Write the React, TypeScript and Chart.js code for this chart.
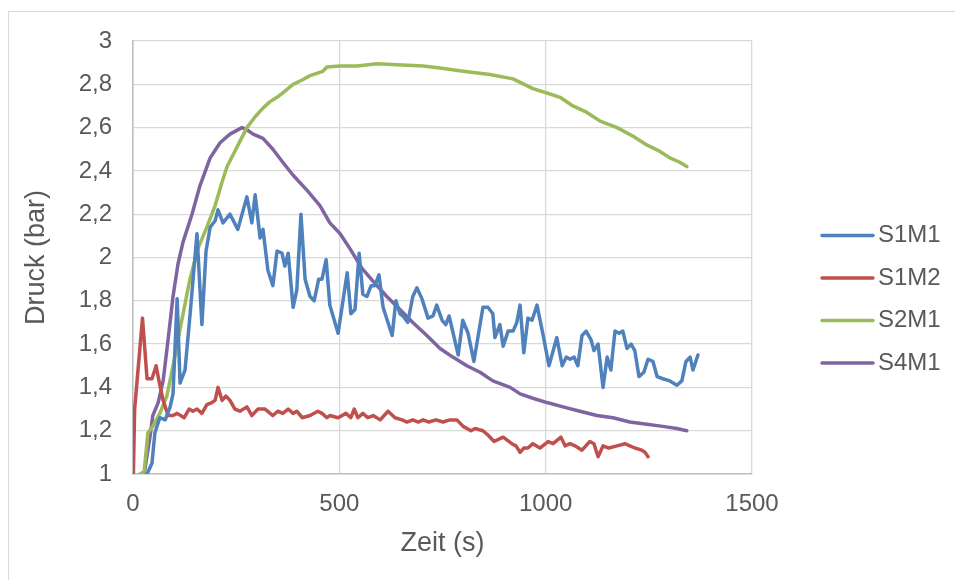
import React, { useEffect, useRef } from "react";
import { Chart, registerables } from "chart.js";

Chart.register(...registerables);

// ---- data ----
const seriesNames = ["S1M1", "S1M2", "S2M1", "S4M1"];
const seriesColors = ["#4F81BD", "#C0504D", "#9BBB59", "#8064A2"];

const xTickValues = [0, 500, 1000, 1500];
const yTickValues = [1, 1.2, 1.4, 1.6, 1.8, 2, 2.2, 2.4, 2.6, 2.8, 3];

const s1m1Zeit = [34, 46, 53, 65, 78, 90, 97, 107, 114, 126, 138, 155, 167, 177, 187, 199, 206, 218, 235, 254, 276, 288, 296, 308, 315, 327, 339, 349, 361, 368, 376, 388, 397, 407, 417, 429, 439, 450, 458, 468, 477, 497, 519, 528, 538, 548, 557, 567, 577, 586, 596, 606, 628, 637, 647, 654, 666, 678, 688, 700, 715, 727, 736, 749, 758, 766, 788, 799, 812, 826, 848, 860, 872, 877, 889, 897, 909, 921, 930, 938, 947, 957, 967, 979, 993, 1008, 1027, 1040, 1050, 1059, 1069, 1078, 1088, 1098, 1110, 1117, 1127, 1139, 1149, 1158, 1168, 1178, 1187, 1197, 1207, 1216, 1226, 1238, 1248, 1260, 1270, 1284, 1301, 1318, 1330, 1340, 1350, 1357, 1369];
const s1m1Druck = [1.0, 1.05, 1.19, 1.26, 1.25, 1.31, 1.37, 1.81, 1.42, 1.48, 1.73, 2.11, 1.69, 2.03, 2.14, 2.17, 2.22, 2.16, 2.2, 2.13, 2.28, 2.16, 2.29, 2.09, 2.13, 1.94, 1.87, 2.03, 2.02, 1.96, 2.02, 1.77, 1.85, 2.2, 1.9, 1.82, 1.8, 1.9, 1.9, 1.99, 1.78, 1.65, 1.93, 1.74, 1.76, 2.02, 1.83, 1.82, 1.87, 1.87, 1.92, 1.77, 1.64, 1.8, 1.74, 1.73, 1.7, 1.82, 1.86, 1.81, 1.72, 1.73, 1.78, 1.71, 1.69, 1.73, 1.55, 1.71, 1.65, 1.52, 1.77, 1.77, 1.74, 1.63, 1.69, 1.59, 1.66, 1.66, 1.7, 1.78, 1.56, 1.72, 1.71, 1.78, 1.65, 1.5, 1.63, 1.5, 1.54, 1.53, 1.54, 1.5, 1.64, 1.66, 1.62, 1.57, 1.6, 1.4, 1.54, 1.48, 1.66, 1.65, 1.66, 1.58, 1.6, 1.57, 1.45, 1.47, 1.53, 1.52, 1.45, 1.44, 1.43, 1.41, 1.43, 1.52, 1.54, 1.48, 1.55];

const s1m2Zeit = [1, 4, 23, 34, 46, 56, 63, 73, 85, 97, 107, 124, 136, 145, 155, 167, 179, 191, 199, 206, 216, 225, 235, 247, 259, 276, 288, 303, 320, 339, 351, 363, 376, 388, 397, 410, 429, 448, 458, 470, 477, 497, 516, 528, 536, 545, 557, 569, 582, 599, 618, 635, 652, 664, 678, 691, 703, 717, 734, 751, 768, 785, 800, 819, 829, 848, 860, 875, 897, 918, 928, 938, 947, 957, 969, 986, 1006, 1018, 1037, 1047, 1059, 1071, 1088, 1107, 1117, 1127, 1139, 1153, 1173, 1192, 1204, 1216, 1233, 1241, 1248];
const s1m2Druck = [1.0, 1.3, 1.72, 1.44, 1.44, 1.5, 1.43, 1.34, 1.27, 1.27, 1.28, 1.26, 1.3, 1.29, 1.3, 1.28, 1.32, 1.33, 1.34, 1.4, 1.34, 1.36, 1.34, 1.3, 1.29, 1.31, 1.27, 1.3, 1.3, 1.27, 1.29, 1.28, 1.3, 1.28, 1.29, 1.26, 1.27, 1.29, 1.28, 1.26, 1.27, 1.26, 1.28, 1.26, 1.3, 1.26, 1.28, 1.26, 1.27, 1.25, 1.29, 1.26, 1.25, 1.24, 1.25, 1.24, 1.25, 1.24, 1.25, 1.24, 1.25, 1.25, 1.22, 1.2, 1.21, 1.2, 1.18, 1.15, 1.17, 1.14, 1.13, 1.1, 1.12, 1.12, 1.14, 1.12, 1.15, 1.14, 1.17, 1.13, 1.14, 1.13, 1.11, 1.15, 1.14, 1.08, 1.13, 1.12, 1.13, 1.14, 1.13, 1.12, 1.11, 1.1, 1.08];

const s2m1Zeit = [17, 27, 36, 48, 65, 82, 97, 114, 138, 157, 179, 199, 216, 228, 252, 276, 296, 315, 332, 349, 363, 388, 410, 429, 460, 470, 502, 543, 591, 640, 703, 744, 800, 865, 921, 969, 1003, 1035, 1066, 1100, 1132, 1173, 1212, 1245, 1277, 1301, 1325, 1342];
const s2m1Druck = [1.0, 1.01, 1.19, 1.22, 1.28, 1.36, 1.5, 1.67, 1.9, 2.04, 2.14, 2.24, 2.35, 2.42, 2.51, 2.6, 2.65, 2.69, 2.72, 2.74, 2.76, 2.8, 2.82, 2.84, 2.86, 2.88, 2.885, 2.885, 2.895, 2.89, 2.885, 2.875, 2.86, 2.845, 2.825, 2.78, 2.76, 2.74, 2.7, 2.67, 2.63, 2.6, 2.56, 2.52, 2.49, 2.46, 2.44, 2.42];

const s4m1Zeit = [27, 41, 48, 61, 73, 85, 97, 109, 121, 143, 162, 187, 211, 235, 264, 276, 291, 315, 339, 363, 388, 422, 453, 477, 502, 526, 555, 582, 615, 647, 678, 712, 744, 775, 809, 841, 872, 914, 938, 969, 1003, 1042, 1083, 1124, 1163, 1204, 1245, 1284, 1318, 1342];
const s4m1Druck = [1.0, 1.17, 1.27, 1.33, 1.43, 1.62, 1.82, 1.97, 2.07, 2.2, 2.33, 2.46, 2.53, 2.57, 2.6, 2.59, 2.57, 2.55, 2.5, 2.44, 2.38, 2.31, 2.24, 2.16, 2.11, 2.04, 1.95, 1.89, 1.82, 1.76, 1.7, 1.64, 1.58, 1.54, 1.5, 1.47, 1.43, 1.4, 1.37, 1.35, 1.33, 1.31, 1.29, 1.27, 1.26, 1.24, 1.23, 1.22, 1.21, 1.2];

const xTitle = "Zeit (s)";
const yTitle = "Druck (bar)";

const TEXT = "#595959";
const FONT = "'Liberation Sans', Arial, sans-serif";

function toPoints(xs: number[], ys: number[]) {
  return xs.map((x, i) => ({ x, y: ys[i] }));
}

const sideLegend = {
  id: "sideLegend",
  afterDraw(chart: any) {
    const ctx = chart.ctx;
    ctx.save();
    chart.data.datasets.forEach((ds: any, i: number) => {
      const y = 235.5 + i * 42.5;
      ctx.strokeStyle = ds.borderColor;
      ctx.lineWidth = 3.5;
      ctx.lineCap = "round";
      ctx.beginPath();
      ctx.moveTo(822, y);
      ctx.lineTo(873, y);
      ctx.stroke();
      ctx.fillStyle = TEXT;
      ctx.font = `24px ${FONT}`;
      ctx.textBaseline = "middle";
      ctx.textAlign = "left";
      ctx.fillText(ds.label, 878, y);
    });
    ctx.restore();
  },
};

function fmt(v: number) {
  return String(Number(v.toFixed(1))).replace(".", ",");
}

export default function App() {
  const ref = useRef<HTMLCanvasElement | null>(null);

  useEffect(() => {
    if (!ref.current) return;
    const series = [
      toPoints(s1m1Zeit, s1m1Druck),
      toPoints(s1m2Zeit, s1m2Druck),
      toPoints(s2m1Zeit, s2m1Druck),
      toPoints(s4m1Zeit, s4m1Druck),
    ];
    const chart = new Chart(ref.current, {
      type: "line",
      data: {
        datasets: series.map((data, i) => ({
          label: seriesNames[i],
          data,
          borderColor: seriesColors[i],
          backgroundColor: seriesColors[i],
          borderWidth: 3.5,
          pointRadius: 0,
          tension: 0,
          fill: false,
          borderJoinStyle: "round" as const,
          borderCapStyle: "round" as const,
        })),
      },
      options: {
        animation: false,
        responsive: false,
        devicePixelRatio: 1,
        events: [],
        layout: { padding: { left: 0, top: 41, right: 203, bottom: 0 } },
        plugins: {
          legend: { display: false },
          tooltip: { enabled: false },
        },
        scales: {
          x: {
            type: "linear",
            position: "bottom",
            min: 0,
            max: 1500,
            afterBuildTicks: (s: any) => {
              s.ticks = xTickValues.map((v) => ({ value: v }));
            },
            afterFit: (s: any) => {
              s.height = 106;
            },
            ticks: {
              color: TEXT,
              font: { family: FONT, size: 24 },
              padding: 16,
              maxRotation: 0,
              callback: (v: any) => String(v),
            },
            grid: { color: "#d9d9d9", lineWidth: 1.3, drawTicks: false },
            border: { color: "#bfbfbf", width: 1.5 },
            title: {
              display: true,
              text: xTitle,
              color: TEXT,
              font: { family: FONT, size: 27 },
              padding: { top: 0, bottom: 20 },
            },
          },
          y: {
            type: "linear",
            min: 1,
            max: 3,
            afterBuildTicks: (s: any) => {
              s.ticks = yTickValues.map((v) => ({ value: v }));
            },
            afterFit: (s: any) => {
              s.width = 133;
            },
            ticks: {
              color: TEXT,
              font: { family: FONT, size: 24 },
              padding: 21,
              callback: (v: any) => fmt(Number(v)),
            },
            grid: { color: "#d9d9d9", lineWidth: 1.3, drawTicks: false },
            border: { color: "#bfbfbf", width: 1.5 },
            title: {
              display: true,
              text: yTitle,
              color: TEXT,
              font: { family: FONT, size: 27 },
              padding: { top: 20, bottom: 0 },
            },
          },
        },
      },
      plugins: [sideLegend],
    });
    return () => chart.destroy();
  }, []);

  return (
    <>
      <div
        style={{
          position: "absolute",
          left: 8,
          top: 11,
          width: 947,
          height: 569,
          boxSizing: "border-box",
          borderLeft: "1px solid #d9d9d9",
          borderTop: "1px solid #d9d9d9",
        }}
      />
      <canvas
        ref={ref}
        width={955}
        height={580}
        style={{ position: "absolute", left: 0, top: 0, width: 955, height: 580 }}
      />
    </>
  );
}
